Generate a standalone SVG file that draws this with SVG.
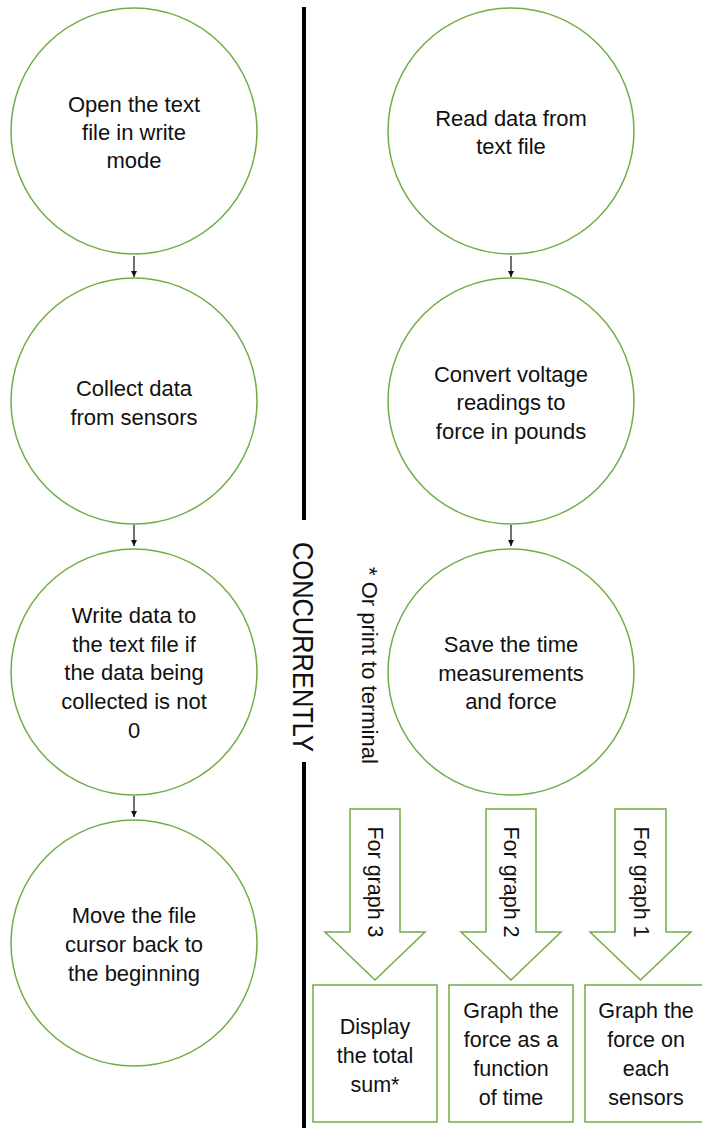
<svg xmlns="http://www.w3.org/2000/svg" width="702" height="1128" viewBox="0 0 702 1128">
<style>
.node{fill:#fff;stroke:#70AD47;stroke-width:1.5}
.t{font-family:"Liberation Sans",Arial,sans-serif;font-size:22px;fill:#111;text-anchor:middle}
.bt{font-family:"Liberation Sans",Arial,sans-serif;font-size:21.5px;fill:#111;text-anchor:middle}
.conn{stroke:#111;stroke-width:1.2;fill:none;marker-end:url(#ah)}
.div{stroke:#000;stroke-width:4}
</style>
<defs>
<marker id="ah" viewBox="0 0 10 10" refX="10" refY="5" markerWidth="6" markerHeight="6" markerUnits="userSpaceOnUse" orient="auto">
<path d="M0,0 L10,5 L0,10 z" fill="#111"/>
</marker>
</defs>
<rect width="702" height="1128" fill="#fff"/>

<g id="divider">
<line class="div" x1="304" y1="7" x2="304" y2="520"/>
<line class="div" x1="304" y1="762" x2="304" y2="1128"/>
<text x="0" y="0" transform="translate(293,542) rotate(90)" font-family="'Liberation Sans',Arial,sans-serif" font-size="29" fill="#111" textLength="210" lengthAdjust="spacingAndGlyphs">CONCURRENTLY</text>
<text x="0" y="0" transform="translate(362,567) rotate(90)" font-family="'Liberation Sans',Arial,sans-serif" font-size="22" fill="#111">* Or print to terminal</text>
</g>

<g id="n1">
<circle class="node" cx="134" cy="131" r="123"/>
<text class="t" x="134" y="112">Open the text</text>
<text class="t" x="134" y="140">file in write</text>
<text class="t" x="134" y="168">mode</text>
</g>
<g id="n2">
<circle class="node" cx="134" cy="401" r="123"/>
<text class="t" x="134" y="396">Collect data</text>
<text class="t" x="134" y="425">from sensors</text>
</g>
<g id="n3">
<circle class="node" cx="134" cy="672" r="123"/>
<text class="t" x="134" y="623">Write data to</text>
<text class="t" x="134" y="652">the text file if</text>
<text class="t" x="134" y="680">the data being</text>
<text class="t" x="134" y="709">collected is not</text>
<text class="t" x="134" y="738">0</text>
</g>
<g id="n4">
<circle class="node" cx="134" cy="943" r="123"/>
<text class="t" x="134" y="923">Move the file</text>
<text class="t" x="134" y="952">cursor back to</text>
<text class="t" x="134" y="981">the beginning</text>
</g>

<g id="r1">
<circle class="node" cx="511" cy="131" r="123"/>
<text class="t" x="511" y="126">Read data from</text>
<text class="t" x="511" y="154">text file</text>
</g>
<g id="r2">
<circle class="node" cx="511" cy="401" r="123"/>
<text class="t" x="511" y="382">Convert voltage</text>
<text class="t" x="511" y="410">readings to</text>
<text class="t" x="511" y="439">force in pounds</text>
</g>
<g id="r3">
<circle class="node" cx="511" cy="672" r="123"/>
<text class="t" x="511" y="652">Save the time</text>
<text class="t" x="511" y="681">measurements</text>
<text class="t" x="511" y="709">and force</text>
</g>

<g id="ba3">
<polygon class="node" points="350,809 400,809 400,932 425,932 375,980 325,932 350,932"/>
<text class="bt" x="0" y="0" transform="translate(368,882) rotate(90)">For graph 3</text>
</g>
<g id="ba2">
<polygon class="node" points="486,809 536,809 536,932 561,932 511,980 461,932 486,932"/>
<text class="bt" x="0" y="0" transform="translate(504,882) rotate(90)">For graph 2</text>
</g>
<g id="ba1">
<polygon class="node" points="615,809 666,809 666,932 691,932 640.5,980 590,932 615,932"/>
<text class="bt" x="0" y="0" transform="translate(634,882) rotate(90)">For graph 1</text>
</g>

<g id="b3">
<rect class="node" x="313" y="985" width="124" height="137"/>
<text class="bt" x="375" y="1034">Display</text>
<text class="bt" x="375" y="1063">the total</text>
<text class="bt" x="375" y="1092">sum*</text>
</g>
<g id="b2">
<rect class="node" x="449" y="985" width="124" height="137"/>
<text class="bt" x="511" y="1018">Graph the</text>
<text class="bt" x="511" y="1047">force as a</text>
<text class="bt" x="511" y="1076">function</text>
<text class="bt" x="511" y="1105">of time</text>
</g>
<g id="b1">
<rect class="node" x="585" y="985" width="124" height="137"/>
<text class="bt" x="646" y="1018">Graph the</text>
<text class="bt" x="646" y="1047">force on</text>
<text class="bt" x="646" y="1076">each</text>
<text class="bt" x="646" y="1105">sensors</text>
</g>

<g id="connectors">
<line class="conn" x1="134" y1="256" x2="134" y2="277"/>
<line class="conn" x1="134" y1="525" x2="134" y2="546"/>
<line class="conn" x1="134" y1="796" x2="134" y2="817"/>
<line class="conn" x1="511" y1="256" x2="511" y2="277"/>
<line class="conn" x1="511" y1="525" x2="511" y2="546"/>
</g>
</svg>
